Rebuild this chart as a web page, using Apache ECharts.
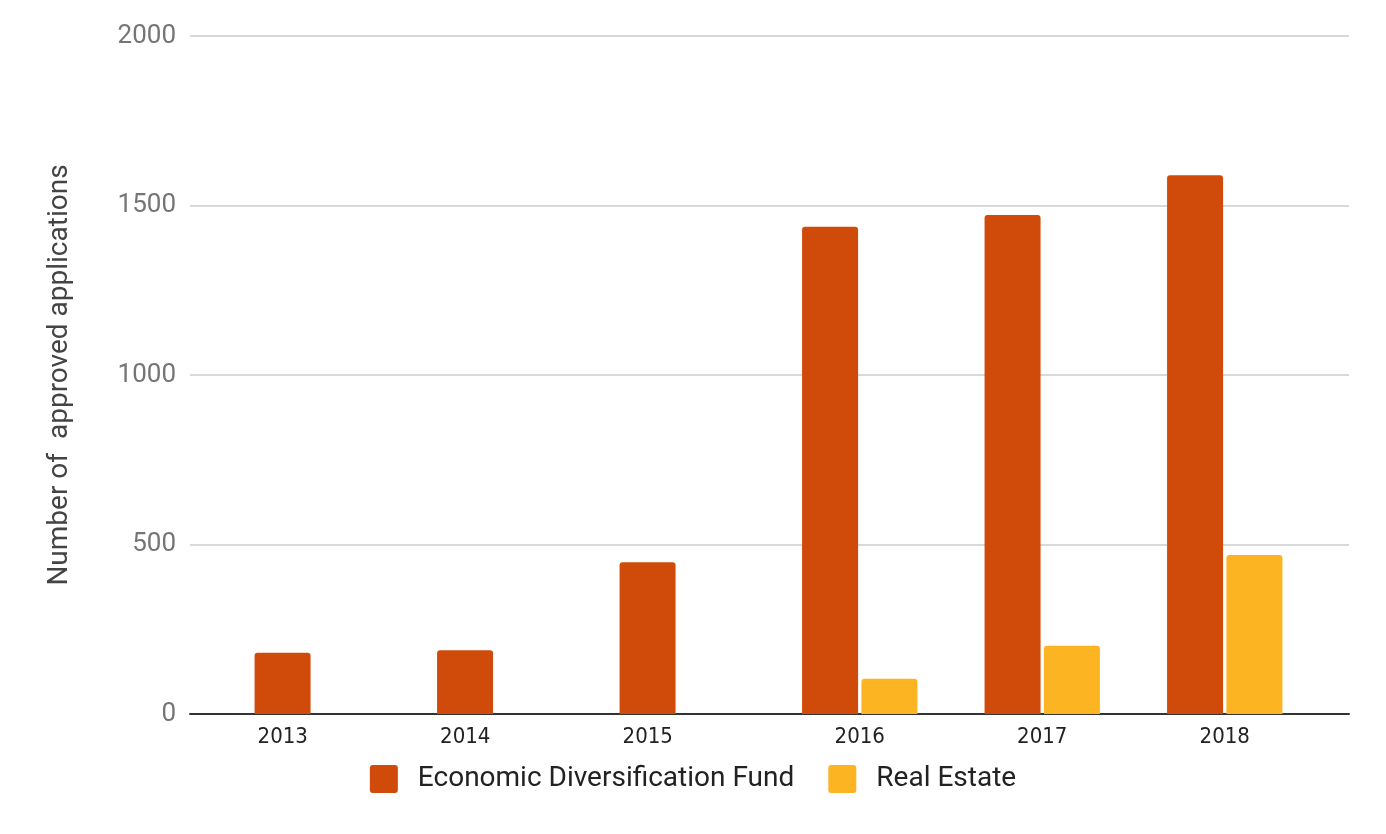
<!DOCTYPE html>
<html><head><meta charset="utf-8">
<script src="https://cdn.jsdelivr.net/npm/echarts@6/dist/echarts.min.js"></script>
<style>html,body{margin:0;padding:0;background:#fff}#c{width:1386px;height:834px}</style>
</head><body><div id="c"></div>
<script>
const years = ['2013', '2014', '2015', '2016', '2017', '2018'];
const edfValues = [181, 188, 448, 1437, 1472, 1589];
const realEstateValues = [null, null, null, 104, 201, 469];
const yMin = 0, yMax = 2000, yStep = 500;
const seriesNames = ['Economic Diversification Fund', 'Real Estate'];

const chart = echarts.init(document.getElementById('c'), null, {renderer: 'canvas'});
chart.setOption({
  backgroundColor: '#fff',
  animation: false,
  grid: [
    {left: 190, right: 37, top: 36, bottom: 120},
    {left: 221, right: 70, top: 36, bottom: 120}
  ],
  legend: {
    bottom: 36,
    left: 'center',
    itemWidth: 28, itemHeight: 28, itemGap: 34,
    icon: 'path://M3,0 L25,0 Q28,0 28,3 L28,25 Q28,28 25,28 L3,28 Q0,28 0,25 L0,3 Q0,0 3,0 Z',
    textStyle: {fontFamily: 'Roboto', fontSize: 28, color: '#222', padding: [0, 0, 0, 15]},
    data: seriesNames
  },
  xAxis: [
    {type: 'category', gridIndex: 0, data: years,
     axisLine: {lineStyle: {color: '#333', width: 2}}, axisTick: {show: false}, axisLabel: {show: false}},
    {type: 'category', gridIndex: 1, data: years,
     axisLine: {show: false}, axisTick: {show: false},
     axisLabel: {
       margin: 12,
       formatter: function (v, i) { return realEstateValues[i] == null ? '{s|' + v + '}' : '{c|' + v + '}'; },
       rich: {
         s: {fontFamily: 'DejaVu Sans Condensed', fontSize: 22, color: '#222', padding: [0, 59, 0, 0]},
         c: {fontFamily: 'DejaVu Sans Condensed', fontSize: 22, color: '#222'}
       }
     }}
  ],
  yAxis: [
    {type: 'value', gridIndex: 0, min: yMin, max: yMax, interval: yStep,
     name: 'Number of  approved applications', nameLocation: 'middle', nameGap: 116, nameRotate: 90,
     nameTextStyle: {fontFamily: 'Roboto', fontSize: 28, color: '#444'},
     axisLine: {show: false}, axisTick: {show: false},
     axisLabel: {fontFamily: 'Roboto', fontSize: 26, color: '#757575', margin: 14,
                 formatter: function (v) { return String(v); }},
     splitLine: {lineStyle: {color: '#cccccc', width: 1.5}}},
    {type: 'value', gridIndex: 1, min: yMin, max: yMax, interval: yStep, show: false, splitLine: {show: false}}
  ],
  series: [
    {name: seriesNames[0], type: 'bar', xAxisIndex: 1, yAxisIndex: 1, data: edfValues,
     barWidth: 56, barGap: '6%', itemStyle: {color: '#D04B0A', borderRadius: [3, 3, 0, 0]}},
    {name: seriesNames[1], type: 'bar', xAxisIndex: 1, yAxisIndex: 1, data: realEstateValues,
     barWidth: 56, barGap: '6%', itemStyle: {color: '#FDB423', borderRadius: [3, 3, 0, 0]}}
  ]
});
</script></body></html>
